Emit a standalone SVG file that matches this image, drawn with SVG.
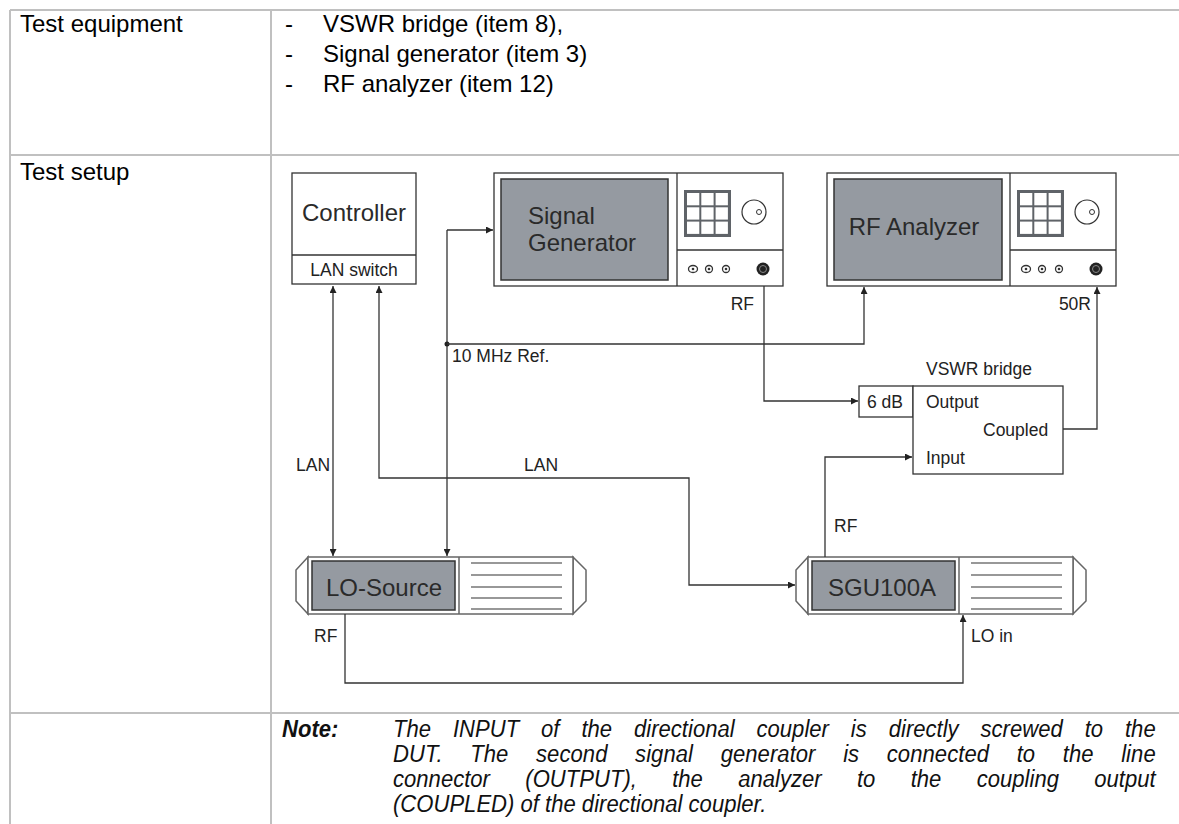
<svg xmlns="http://www.w3.org/2000/svg" xmlns:xlink="http://www.w3.org/1999/xlink" width="1179" height="824" viewBox="0 0 1179 824">
<style>
.grid{stroke:#c0c0c0;stroke-width:2;fill:none}
.t{font-family:"Liberation Sans",Arial,sans-serif;fill:#000}
.cell{font-size:24px}
.lbl{font-family:"Liberation Sans",Arial,sans-serif;font-size:17.5px;fill:#222}
.big{font-family:"Liberation Sans",Arial,sans-serif;font-size:24px;fill:#2a2a2a}
.box{fill:#fff;stroke:#333;stroke-width:1.3}
.scr{fill:#959aa1;stroke:#333;stroke-width:1.5}
.dev{fill:#fff;stroke:#666;stroke-width:1.5}
.wire{fill:none;stroke:#333;stroke-width:1.3}
.note{font-family:"Liberation Sans",Arial,sans-serif;font-style:italic;font-size:24px;fill:#111}
</style>
<defs>
<marker id="ah" viewBox="0 0 10 10" refX="10" refY="5" markerWidth="7" markerHeight="7" markerUnits="userSpaceOnUse" orient="auto-start-reverse">
<path d="M0,0 L10,5 L0,10 z" fill="#222"/>
</marker>
<g id="instr">
<rect class="box" x="0" y="0" width="289" height="113"/>
<line class="box" x1="183" y1="0" x2="183" y2="113"/>
<line class="box" x1="183" y1="77" x2="289" y2="77"/>
<rect x="190" y="17" width="47" height="47" fill="#5f6368"/>
<g fill="#fff">
<rect x="193" y="20" width="12.3" height="12.3"/><rect x="207.3" y="20" width="12.3" height="12.3"/><rect x="221.6" y="20" width="12.3" height="12.3"/>
<rect x="193" y="34.3" width="12.3" height="12.3"/><rect x="207.3" y="34.3" width="12.3" height="12.3"/><rect x="221.6" y="34.3" width="12.3" height="12.3"/>
<rect x="193" y="48.6" width="12.3" height="12.3"/><rect x="207.3" y="48.6" width="12.3" height="12.3"/><rect x="221.6" y="48.6" width="12.3" height="12.3"/>
</g>
<circle cx="260" cy="39" r="12" fill="#fff" stroke="#333" stroke-width="1.2"/>
<circle cx="265" cy="39" r="2.5" fill="#fff" stroke="#333" stroke-width="1"/>
<g fill="#fff" stroke="#333" stroke-width="1.3">
<ellipse cx="199" cy="96" rx="4.5" ry="3.5"/><circle cx="215" cy="96" r="3.5"/><circle cx="232" cy="96" r="3.5"/>
</g>
<g fill="#333"><circle cx="199" cy="96" r="1.3"/><circle cx="215" cy="96" r="1.3"/><circle cx="232" cy="96" r="1.3"/></g>
<circle cx="269" cy="96" r="6.5" fill="#222"/>
<circle cx="269" cy="96" r="3.5" fill="none" stroke="#888" stroke-width="1"/>
</g>
<g id="panel">
<path class="dev" d="M12,0 L0,13 L0,44 L12,57 Z"/>
<path class="dev" d="M277,0 L290,13 L290,44 L277,57 Z"/>
<rect class="dev" x="12" y="0" width="265" height="57"/>
<rect class="scr" x="16" y="4" width="143" height="49"/>
<line class="dev" x1="163" y1="0" x2="163" y2="57"/>
<g stroke="#333" stroke-width="1.2">
<line x1="175" y1="6" x2="266" y2="6"/><line x1="175" y1="18" x2="266" y2="18"/><line x1="175" y1="30" x2="266" y2="30"/><line x1="175" y1="41" x2="266" y2="41"/><line x1="175" y1="52" x2="266" y2="52"/>
</g>
</g>
</defs>
<rect width="1179" height="824" fill="#fff"/>
<g id="table">
<line class="grid" x1="10" y1="10" x2="1179" y2="10"/>
<line class="grid" x1="10" y1="155" x2="1179" y2="155"/>
<line class="grid" x1="10" y1="713" x2="1179" y2="713"/>
<line class="grid" x1="10" y1="10" x2="10" y2="824"/>
<line class="grid" x1="271" y1="10" x2="271" y2="824"/>
<text class="t cell" x="20" y="32">Test equipment</text>
<text class="t cell" x="285" y="32">-</text><text class="t cell" x="323" y="32">VSWR bridge (item 8),</text>
<text class="t cell" x="285" y="62">-</text><text class="t cell" x="323" y="62">Signal generator (item 3)</text>
<text class="t cell" x="285" y="92">-</text><text class="t cell" x="323" y="92">RF analyzer (item 12)</text>
<text class="t cell" x="20" y="180">Test setup</text>
</g>
<g id="controller">
<rect class="box" x="292" y="173" width="124" height="111"/>
<line class="box" x1="292" y1="255" x2="416" y2="255"/>
<text class="big" x="354" y="221" text-anchor="middle">Controller</text>
<text class="lbl" x="354" y="276" text-anchor="middle" font-size="18">LAN switch</text>
</g>
<g id="signal-generator">
<use xlink:href="#instr" href="#instr" x="494" y="173"/>
<rect class="scr" x="501" y="179" width="167" height="101"/>
<text class="big" x="528" y="224">Signal</text>
<text class="big" x="528" y="251">Generator</text>
</g>
<g id="rf-analyzer">
<use xlink:href="#instr" href="#instr" x="827" y="173"/>
<rect class="scr" x="834" y="179" width="168" height="101"/>
<text class="big" x="914" y="235" text-anchor="middle">RF Analyzer</text>
</g>
<g id="lo-source">
<use xlink:href="#panel" href="#panel" x="296" y="557"/>
<text class="big" x="384" y="596" text-anchor="middle">LO-Source</text>
</g>
<g id="sgu100a">
<use xlink:href="#panel" href="#panel" x="796" y="557"/>
<text class="big" x="882" y="596" text-anchor="middle">SGU100A</text>
</g>
<g id="vswr-bridge">
<rect class="box" x="859" y="386" width="54" height="31"/>
<rect class="box" x="913" y="386" width="150" height="88"/>
<text class="lbl" x="926" y="375">VSWR bridge</text>
<text class="lbl" x="867" y="408">6 dB</text>
<text class="lbl" x="926" y="408">Output</text>
<text class="lbl" x="983" y="436">Coupled</text>
<text class="lbl" x="926" y="464">Input</text>
</g>
<g id="connectors">
<path class="wire" d="M333,286 V556" marker-start="url(#ah)" marker-end="url(#ah)"/>
<path class="wire" d="M379,286 V478 H689 V585 H795" marker-start="url(#ah)" marker-end="url(#ah)"/>
<path class="wire" d="M447,230 H493" marker-end="url(#ah)"/>
<path class="wire" d="M447,230 V556" marker-end="url(#ah)"/>
<circle cx="447" cy="344" r="2.5" fill="#222"/>
<path class="wire" d="M447,344 H864 V287" marker-end="url(#ah)"/>
<path class="wire" d="M764,286 V401 H858" marker-end="url(#ah)"/>
<path class="wire" d="M1063,429 H1097 V287" marker-end="url(#ah)"/>
<path class="wire" d="M825,557 V457 H912" marker-end="url(#ah)"/>
<path class="wire" d="M345,614 V683 H963 V615" marker-end="url(#ah)"/>
<text class="lbl" x="754" y="310" text-anchor="end">RF</text>
<text class="lbl" x="1091" y="310" text-anchor="end">50R</text>
<text class="lbl" x="452" y="362">10 MHz Ref.</text>
<text class="lbl" x="296" y="471">LAN</text>
<text class="lbl" x="524" y="471">LAN</text>
<text class="lbl" x="834" y="532">RF</text>
<text class="lbl" x="314" y="642">RF</text>
<text class="lbl" x="971" y="642">LO in</text>
</g>
<g id="note">
<g transform="translate(282,0) scale(0.92,1)">
<text class="note" x="0" y="737" font-weight="bold">Note:</text>
</g>
<g transform="translate(393,0) scale(0.92,1)">
<text class="note" x="0" y="737" word-spacing="17.2" textLength="829" lengthAdjust="spacing">The INPUT of the directional coupler is directly screwed to the</text>
<text class="note" x="0" y="762" word-spacing="23.3" textLength="829" lengthAdjust="spacing">DUT. The second signal generator is connected to the line</text>
<text class="note" x="0" y="787" word-spacing="31.7" textLength="829" lengthAdjust="spacing">connector (OUTPUT), the analyzer to the coupling output</text>
<text class="note" x="0" y="812">(COUPLED) of the directional coupler.</text>
</g>
</g>
</svg>
